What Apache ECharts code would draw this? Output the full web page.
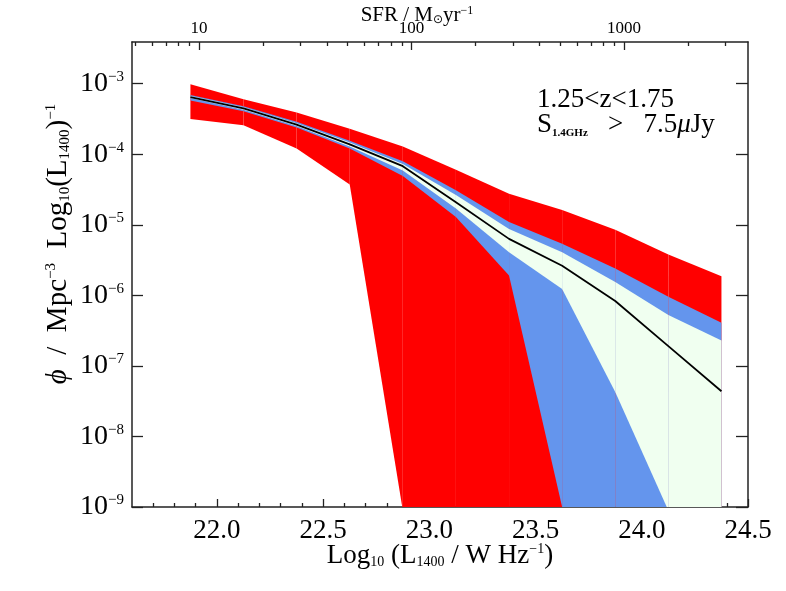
<!DOCTYPE html>
<html>
<head>
<meta charset="utf-8">
<script src="https://cdn.jsdelivr.net/npm/echarts@6/dist/echarts.min.js"></script>
<style>
html, body { margin: 0; padding: 0; background: #fff; }
#chart { width: 786px; height: 591px; }
</style>
</head>
<body>
<div id="chart"></div>
<script>
// luminosity bins, log10(L1400 / W Hz^-1)
const logL = [21.875, 22.125, 22.375, 22.625, 22.875, 23.125, 23.375, 23.625, 23.875, 24.125, 24.375]

// log10(phi); -12 = below the plotted floor
const medianPhi = [-3.19, -3.35, -3.58, -3.86, -4.17, -4.68, -5.20, -5.58, -6.08, -6.72, -7.36]
const redHi   = [-3.01, -3.22, -3.41, -3.64, -3.89, -4.22, -4.56, -4.79, -5.07, -5.42, -5.73]
const redLo   = [-3.50, -3.59, -3.92, -4.43, -9.05, -12, -12, -12, -12, -12, -12]
const blueHi  = [-3.16, -3.32, -3.54, -3.81, -4.10, -4.51, -4.96, -5.27, -5.62, -6.02, -6.39]
const blueLo  = [-3.24, -3.39, -3.62, -3.92, -4.31, -4.89, -5.72, -9.0, -12, -12, -12]
const greenHi = [-3.175, -3.335, -3.56, -3.835, -4.14, -4.58, -5.06, -5.39, -5.81, -6.28, -6.64]
const greenLo = [-3.205, -3.37, -3.60, -3.89, -4.23, -4.77, -5.39, -5.91, -7.37, -9.05, -12]

// axis ticks
const xMajorTicks = [22.0, 22.5, 23.0, 23.5, 24.0, 24.5]
const xMinorTicks = [21.7, 21.8, 21.9, 22.1, 22.2, 22.3, 22.4, 22.6, 22.7, 22.8, 22.9,
  23.1, 23.2, 23.3, 23.4, 23.6, 23.7, 23.8, 23.9, 24.1, 24.2, 24.3, 24.4]
const yTicks = [-9, -8, -7, -6, -5, -4, -3]
const sfrMajorTicks = [10, 100, 1000]
const sfrMinorTicks = [5, 6, 7, 8, 9, 20, 30, 40, 50, 60, 70, 80, 90,
  200, 300, 400, 500, 600, 700, 800, 900, 2000, 3000]

const SFR_OFFSET = 20.916 // log L1400 - log SFR
const X_MIN = 21.6, X_MAX = 24.5
const Y_MIN = -9, Y_MAX = -2.41

const FONT = 'Liberation Serif'
const AXIS_COLOR = '#222'

const chart = echarts.init(document.getElementById('chart'))

// one quad per bin pair, drawn like the original (separate polygons)
function band(name, lo, hi, color) {
  const data = []
  for (let i = 0; i < logL.length - 1; i++) {
    data.push([logL[i], lo[i], hi[i], logL[i + 1], lo[i + 1], hi[i + 1]])
  }
  return {
    name, type: 'custom', clip: true, silent: true,
    encode: { x: [0, 3], y: [1, 2, 4, 5] },
    data,
    renderItem(params, api) {
      const x0 = api.value(0), x1 = api.value(3)
      const pts = [
        api.coord([x0, api.value(2)]),
        api.coord([x1, api.value(5)]),
        api.coord([x1, api.value(4)]),
        api.coord([x0, api.value(1)]),
      ]
      return { type: 'polygon', shape: { points: pts }, style: { fill: color } }
    },
  }
}

const lineStyle = { color: AXIS_COLOR, width: 1.5 }
const tickStyle = { color: AXIS_COLOR, width: 1.3 }

const rich = {
  m: { fontFamily: FONT, fontSize: 27, color: '#000' },
  s: { fontFamily: FONT, fontSize: 14, color: '#000', verticalAlign: 'bottom' },
  p: { fontFamily: FONT, fontSize: 14, color: '#000', verticalAlign: 'top' },
}

const yRich = {
  m: { fontFamily: FONT, fontSize: 29, color: '#000' },
  s: { fontFamily: FONT, fontSize: 15, color: '#000', verticalAlign: 'bottom' },
  p: { fontFamily: FONT, fontSize: 15, color: '#000', verticalAlign: 'top' },
  g: { fontFamily: FONT, fontSize: 29, color: '#000', fontStyle: 'italic' },
}

chart.setOption({
  animation: false,
  grid: { left: 132, right: 38, top: 42, bottom: 84, outerBoundsMode: 'none' },
  xAxis: [
    {
      type: 'value', position: 'bottom', min: X_MIN, max: X_MAX,
      axisLine: { show: true, lineStyle },
      axisTick: { show: true, inside: true, length: 8, customValues: xMajorTicks, lineStyle: tickStyle },
      axisLabel: {
        show: true, customValues: xMajorTicks, margin: 10,
        formatter: v => v.toFixed(1),
        fontFamily: FONT, fontSize: 27, color: '#000',
      },
      splitLine: { show: false },
    },
    {
      type: 'value', position: 'bottom', min: X_MIN, max: X_MAX,
      axisLine: { show: false },
      axisTick: { show: true, inside: true, length: 4, customValues: xMinorTicks, lineStyle: tickStyle },
      axisLabel: { show: false },
      splitLine: { show: false },
    },
    {
      type: 'value', position: 'top', min: X_MIN - SFR_OFFSET, max: X_MAX - SFR_OFFSET,
      axisLine: { show: true, lineStyle },
      axisTick: { show: true, inside: true, length: 8, customValues: sfrMajorTicks.map(Math.log10), lineStyle: tickStyle },
      axisLabel: {
        show: true, customValues: sfrMajorTicks.map(Math.log10), margin: 5,
        formatter: v => String(Math.round(Math.pow(10, v))),
        fontFamily: FONT, fontSize: 17, color: '#000',
      },
      splitLine: { show: false },
    },
    {
      type: 'value', position: 'top', min: X_MIN - SFR_OFFSET, max: X_MAX - SFR_OFFSET,
      axisLine: { show: false },
      axisTick: { show: true, inside: true, length: 4, customValues: sfrMinorTicks.map(Math.log10), lineStyle: tickStyle },
      axisLabel: { show: false },
      splitLine: { show: false },
    },
  ],
  yAxis: [
    {
      type: 'value', position: 'left', min: Y_MIN, max: Y_MAX,
      axisLine: { show: true, lineStyle },
      axisTick: { show: true, inside: true, length: 11, customValues: yTicks, lineStyle: tickStyle },
      axisLabel: {
        show: true, customValues: yTicks, margin: 8,
        formatter: v => `{a|10}{b|−${Math.abs(v)}}`,
        rich: {
          a: { fontFamily: FONT, fontSize: 28, color: '#000' },
          b: { fontFamily: FONT, fontSize: 15, color: '#000', verticalAlign: 'top' },
        },
      },
      splitLine: { show: false },
    },
    {
      type: 'value', position: 'right', min: Y_MIN, max: Y_MAX,
      axisLine: { show: true, lineStyle },
      axisTick: { show: true, inside: true, length: 12, customValues: yTicks, lineStyle: tickStyle },
      axisLabel: { show: false },
      splitLine: { show: false },
    },
  ],
  series: [
    band('red', redLo, redHi, '#ff0000'),
    band('blue', blueLo, blueHi, '#6495ed'),
    band('green', greenLo, greenHi, '#f0fff0'),
    {
      name: 'median', type: 'line',
      data: logL.map((x, i) => [x, medianPhi[i]]),
      symbol: 'none', lineStyle: { color: '#000', width: 1.8 }, silent: true, z: 5,
    },
  ],
  graphic: [
    {
      type: 'text', x: 417, y: 15,
      style: {
        text: '{t|SFR / M}{o|⊙}{t|yr}{q|−1}',
        rich: {
          t: { fontFamily: FONT, fontSize: 21, color: '#000' },
          o: { fontFamily: 'DejaVu Sans', fontSize: 12, color: '#000', verticalAlign: 'bottom' },
          q: { fontFamily: FONT, fontSize: 12, color: '#000', verticalAlign: 'top' },
        },
        align: 'center', verticalAlign: 'middle', textAlign: 'center', textVerticalAlign: 'middle',
      },
    },
    {
      type: 'text', x: 440, y: 556,
      style: {
        text: '{m|Log}{s|10}{m| (L}{s|1400}{m| / W Hz}{p|−1}{m|)}',
        rich,
        align: 'center', verticalAlign: 'middle', textAlign: 'center', textVerticalAlign: 'middle',
      },
    },
    {
      type: 'text', x: 58, y: 244, rotation: Math.PI / 2,
      style: {
        text: '{g|ϕ}{m|  /  Mpc}{p|−3}{m|  Log}{s|10}{m|(L}{s|1400}{m|)}{p|−1}',
        rich: yRich,
        align: 'center', verticalAlign: 'middle', textAlign: 'center', textVerticalAlign: 'middle',
      },
    },
    {
      type: 'text', x: 537, y: 100,
      style: {
        text: '{m|1.25<z<1.75}',
        rich: { m: { fontFamily: FONT, fontSize: 27, color: '#000' } },
        align: 'left', verticalAlign: 'middle', textAlign: 'left', textVerticalAlign: 'middle',
      },
    },
    {
      type: 'text', x: 537, y: 125,
      style: {
        text: '{m|S}{s|1.4GHz}{m|   >   7.5}{u|μ}{m|Jy}',
        rich: {
          m: { fontFamily: FONT, fontSize: 27, color: '#000' },
          s: { fontFamily: FONT, fontSize: 11, fontWeight: 'bold', color: '#000', verticalAlign: 'bottom' },
          u: { fontFamily: FONT, fontSize: 27, fontStyle: 'italic', color: '#000' },
        },
        align: 'left', verticalAlign: 'middle', textAlign: 'left', textVerticalAlign: 'middle',
      },
    },
  ],
})
</script>
</body>
</html>
